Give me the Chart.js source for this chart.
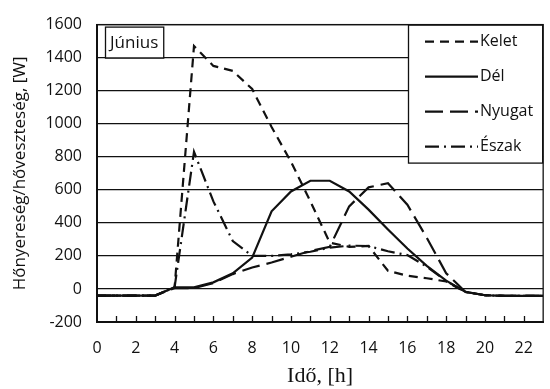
<!DOCTYPE html>
<html>
<head>
<meta charset="utf-8">
<script src="https://cdn.jsdelivr.net/npm/chart.js@4"></script>
<style>
html,body{margin:0;padding:0;background:#fff;}
#wrap{width:550px;height:389px;position:relative;}
</style>
</head>
<body>
<div id="wrap"><canvas id="c"></canvas></div>
<script>
const hours = [0,1,2,3,4,5,6,7,8,9,10,11,12,13,14,15,16,17,18,19,20,21,22,23];
const kelet  = [-40,-40,-40,-40,10,1470,1350,1320,1210,980,770,530,280,255,260,110,80,65,45,-18,-38,-42,-42,-42];
const del    = [-40,-40,-40,-40,10,10,40,95,190,470,590,655,655,590,480,360,245,140,50,-18,-38,-42,-42,-42];
const nyugat = [-40,-40,-40,-40,5,5,35,90,130,160,195,230,255,500,615,640,510,310,95,-18,-38,-42,-42,-42];
const eszak  = [-40,-40,-40,-40,10,830,530,290,200,200,210,225,250,262,260,228,205,135,48,-18,-38,-42,-42,-42];
const seriesNames = ['Kelet','Dél','Nyugat','Észak'];
const yTicks = [-200,0,200,400,600,800,1000,1200,1400,1600];
const xLabelTicks = [0,2,4,6,8,10,12,14,16,18,20,22];
const boxLabel = 'Június';
const yTitle = 'Hőnyereség/hőveszteség, [W]';
const xTitle = 'Idő, [h]';

const SANS = "'Open Sans', sans-serif";
const toXY = arr => arr.map((v,i)=>({x:hours[i], y:v}));
const styles = [[9,6],[],[18,7],[14,5,2,5]];
const datasets = [kelet, del, nyugat, eszak].map((arr,i)=>({
  label: seriesNames[i],
  data: toXY(arr),
  borderColor:'#111',
  borderWidth:2.2,
  borderDash: styles[i],
  pointRadius:0,
  fill:false,
  tension:0
}));

const overlay = {
  id:'overlay',
  afterDatasetsDraw(chart){
    const {ctx, chartArea:a, scales:{x,y}} = chart;
    ctx.save();
    // inner tick marks on x axis
    ctx.strokeStyle='#111'; ctx.lineWidth=1.3;
    for(let h=1; h<=22; h++){
      const px = Math.round(x.getPixelForValue(h))+0.5;
      ctx.beginPath(); ctx.moveTo(px, a.bottom); ctx.lineTo(px, a.bottom-6); ctx.stroke();
    }
    // Június box
    ctx.font = "17px "+SANS;
    const tw = ctx.measureText(boxLabel).width;
    const bx = a.left+8, by = a.top+2, bw = tw+10, bh = 31;
    ctx.fillStyle='#fff'; ctx.fillRect(bx,by,bw,bh);
    ctx.strokeStyle='#111'; ctx.lineWidth=1.3; ctx.strokeRect(bx+0.5,by+0.5,bw,bh);
    ctx.fillStyle='#111'; ctx.textBaseline='middle'; ctx.textAlign='left';
    ctx.fillText(boxLabel, bx+5, by+bh/2+1);
    // legend
    const lx = 408, ly = a.top, lw = a.right-408, lh = 138;
    ctx.fillStyle='#fff'; ctx.fillRect(lx,ly,lw,lh);
    ctx.strokeStyle='#111'; ctx.lineWidth=1.3; ctx.strokeRect(lx+0.5,ly+0.5,lw-1,lh);
    chart.data.datasets.forEach((ds,i)=>{
      const cy = ly + 17 + i*35;
      ctx.setLineDash(ds.borderDash); ctx.lineWidth=2.4; ctx.strokeStyle='#111';
      ctx.beginPath(); ctx.moveTo(425, cy); ctx.lineTo(478, cy); ctx.stroke();
      ctx.setLineDash([]);
      ctx.fillStyle='#111'; ctx.font="16px "+SANS;
      ctx.fillText(ds.label, 480, cy);
    });
    // plot border
    ctx.lineWidth=1.3; ctx.strokeStyle='#111';
    ctx.strokeRect(a.left, a.top, a.right-a.left, a.bottom-a.top);
    ctx.restore();
  }
};

new Chart(document.getElementById('c'), {
  type:'line',
  data:{datasets},
  options:{
    responsive:true, maintainAspectRatio:false, animation:false,
    layout:{padding:{top:11,right:2,left:10,bottom:0}},
    plugins:{legend:{display:false}, tooltip:{enabled:false}},
    scales:{
      x:{
        type:'linear', min:0, max:23,
        grid:{display:false, drawTicks:false},
        border:{display:true,color:'#111',width:2},
        afterBuildTicks(s){ s.ticks = xLabelTicks.map(v=>({value:v})); },
        afterFit(s){ s.height = 67; },
        ticks:{color:'#111', font:{family:SANS,size:16}, padding:17, maxRotation:0, autoSkip:false,
               callback:v=>String(v)},
        title:{display:true, text:xTitle, color:'#111', font:{family:"'Liberation Serif', serif", size:22}, padding:{top:0,bottom:0}}
      },
      y:{
        min:-200, max:1600,
        afterBuildTicks(s){ s.ticks = yTicks.map(v=>({value:v})); },
        afterFit(s){ s.width = 87; },
        grid:{color:'#111', lineWidth:1.3, drawTicks:false},
        border:{display:true,color:'#111',width:2},
        ticks:{color:'#111', font:{family:SANS,size:16}, padding:15, callback:v=>String(v)},
        title:{display:true, text:yTitle, color:'#111', font:{family:SANS,size:17}, padding:{top:0,bottom:0}}
      }
    }
  },
  plugins:[overlay]
});
</script>
</body>
</html>
